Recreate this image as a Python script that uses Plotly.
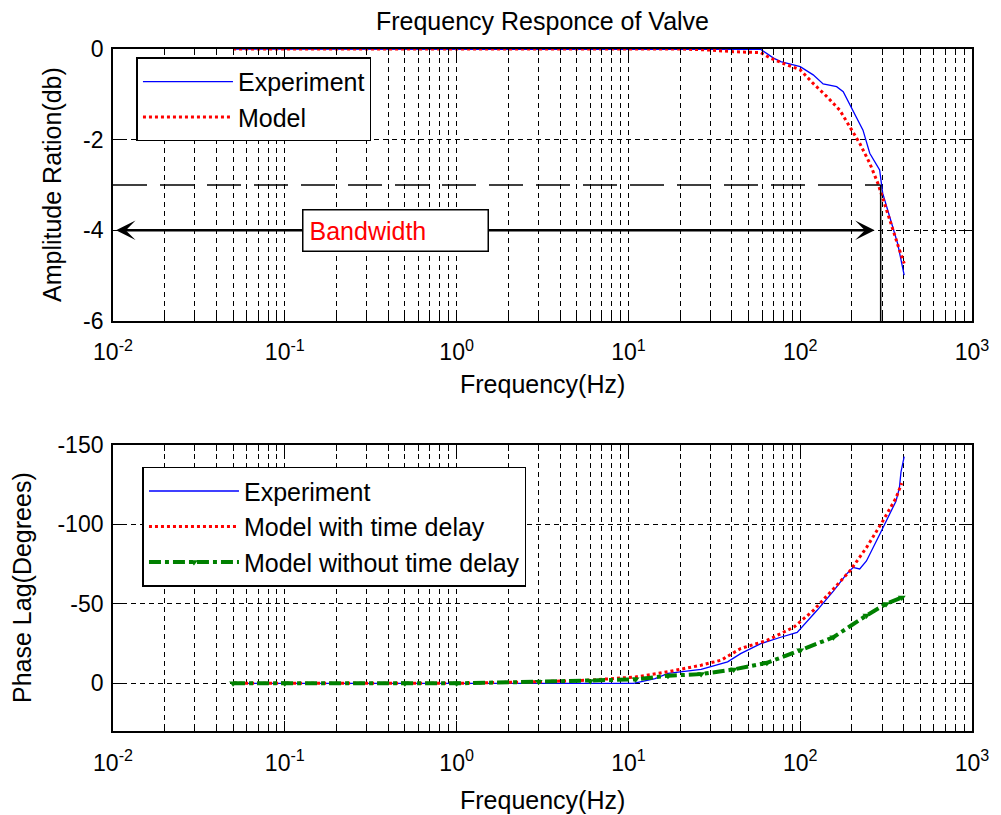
import math
import plotly.graph_objects as go

# ---------------- data: amplitude (top) ----------------
amp_freq_exp = [0.05, 0.1, 0.5, 1, 5, 10, 20, 40, 59, 70, 77, 100, 119, 136, 163, 178,
                203, 232, 254, 290, 302, 331, 369, 403]
amp_db_exp = [0, 0, 0, 0, 0, 0, 0, 0, -0.01, -0.2, -0.28, -0.39, -0.57, -0.77, -0.83, -0.94,
              -1.35, -1.79, -2.3, -2.67, -3.18, -3.7, -4.29, -4.99]

amp_freq_model = [0.05, 0.1, 0.5, 1, 5, 10, 20, 29, 41, 59, 67, 80, 100, 119, 143, 170,
                  194, 222, 254, 283, 309, 346, 378, 403]
amp_db_model = [0, 0, 0, 0, 0, 0, 0, -0.02, -0.06, -0.08, -0.2, -0.32, -0.46, -0.76, -1.05, -1.35,
                -1.71, -2.08, -2.52, -2.96, -3.4, -3.99, -4.43, -4.73]

bandwidth_hz = 294
cutoff_db = -3
arrow_db = -4

# ---------------- data: phase (bottom) ----------------
ph_freq_exp = [0.05, 0.1, 0.5, 1, 5, 10.7, 14.3, 17, 26.5, 37.8, 45, 59, 77, 96, 125, 156,
               186, 203, 222, 243, 290, 316, 361, 378, 386, 403]
ph_deg_exp = [0, 0, 0, 0, 0, 0, -3, -6.2, -8.8, -13.5, -18.7, -25, -29, -32, -45.8, -58,
              -68.7, -72.9, -72, -77, -93.7, -102, -114.6, -123, -133, -142.7]

ph_freq_delay = [0.05, 0.1, 0.5, 1, 3, 6, 11, 17, 26.5, 34.7, 45, 64, 92, 119, 156, 195,
                 243, 302, 361, 390]
ph_deg_delay = [0, 0, 0, 0, -1, -2, -4, -7.3, -11.4, -14.6, -21.9, -27, -35.4, -45.8, -59.4, -70.8,
                -85.4, -102, -116.6, -126]

ph_freq_nodelay = [0.05, 0.1, 0.5, 1, 3, 6, 11, 17, 26.5, 41, 64, 100, 156, 243, 316, 390]
ph_deg_nodelay = [0, 0, 0, 0, -1, -1.5, -2.5, -4.8, -5.8, -8.75, -12.9, -20.8, -29, -42.7, -50, -54]

# ---------------- ticks ----------------
decade_ticks = [0.01, 0.1, 1, 10, 100, 1000]
decade_labels = ["10<sup>-2</sup>", "10<sup>-1</sup>", "10<sup>0</sup>",
                 "10<sup>1</sup>", "10<sup>2</sup>", "10<sup>3</sup>"]
minor_ticks = [m * 10.0 ** e for e in range(-2, 3) for m in range(2, 10)]
amp_ticks = [-6, -4, -2, 0]
phase_ticks = [-150, -100, -50, 0]

FONT = "Arial, Liberation Sans, sans-serif"
FS_TICK = 23
FS = 25
GRID_DASH = "5px,4px"

fig = go.Figure()

# top traces
fig.add_trace(go.Scatter(x=amp_freq_exp, y=amp_db_exp, mode="lines", name="Experiment",
                         line=dict(color="#0000ff", width=1.3), xaxis="x", yaxis="y",
                         legend="legend"))
fig.add_trace(go.Scatter(x=amp_freq_model, y=amp_db_model, mode="lines", name="Model",
                         line=dict(color="#ff0000", width=3, dash="dot"), xaxis="x", yaxis="y",
                         legend="legend"))
# -3 dB reference and bandwidth marker lines
fig.add_trace(go.Scatter(x=[decade_ticks[0], bandwidth_hz], y=[cutoff_db, cutoff_db], mode="lines",
                         line=dict(color="black", width=1.5, dash="34px,13px"),
                         showlegend=False, hoverinfo="skip", xaxis="x", yaxis="y"))
fig.add_trace(go.Scatter(x=[bandwidth_hz, bandwidth_hz], y=[cutoff_db, amp_ticks[0]], mode="lines",
                         line=dict(color="black", width=1.5),
                         showlegend=False, hoverinfo="skip", xaxis="x", yaxis="y"))

# bottom traces
fig.add_trace(go.Scatter(x=ph_freq_exp, y=ph_deg_exp, mode="lines", name="Experiment",
                         line=dict(color="#0000ff", width=1.3), xaxis="x2", yaxis="y2",
                         legend="legend2"))
fig.add_trace(go.Scatter(x=ph_freq_delay, y=ph_deg_delay, mode="lines", name="Model with time delay",
                         line=dict(color="#ff0000", width=3, dash="dot"), xaxis="x2", yaxis="y2",
                         legend="legend2"))
fig.add_trace(go.Scatter(x=ph_freq_nodelay, y=ph_deg_nodelay, mode="lines+markers",
                         name="Model without time delay",
                         line=dict(color="#008000", width=4, dash="dashdot"),
                         marker=dict(symbol="triangle-down", size=7, color="#008000"),
                         xaxis="x2", yaxis="y2", legend="legend2"))

top_dom = [0.6012, 1.0]
bot_dom = [0.0, 0.4194]


def xaxis_cfg(anchor):
    return dict(type="log", range=[math.log10(decade_ticks[0]), math.log10(decade_ticks[-1])],
                anchor=anchor, domain=[0, 1],
                tickmode="array", tickvals=decade_ticks, ticktext=decade_labels,
                ticks="inside", ticklen=10, tickwidth=1.2, tickcolor="black",
                showline=True, linecolor="black", linewidth=1.8, mirror="allticks",
                showgrid=True, gridcolor="black", gridwidth=1.3, griddash=GRID_DASH,
                zeroline=False, ticklabelstandoff=10,
                tickfont=dict(family=FONT, size=FS_TICK, color="black"),
                minor=dict(tickmode="array", tickvals=minor_ticks, ticks="inside", ticklen=6,
                           tickcolor="black", tickwidth=1,
                           showgrid=True, gridcolor="black", gridwidth=1.3, griddash=GRID_DASH))


def yaxis_cfg(anchor, dom, rng, ticks):
    return dict(anchor=anchor, domain=dom, range=rng, tickmode="array", tickvals=ticks,
                ticktext=[str(t) for t in ticks],
                ticks="inside", ticklen=10, tickwidth=1.2, tickcolor="black",
                showline=True, linecolor="black", linewidth=1.8, mirror="allticks",
                showgrid=True, gridcolor="black", gridwidth=1.3, griddash=GRID_DASH,
                zeroline=False, ticklabelstandoff=3,
                tickfont=dict(family=FONT, size=FS_TICK, color="black"))


annotations = [
    # axis titles
    dict(text="Frequency(Hz)", xref="paper", yref="paper", x=0.5, y=top_dom[0],
         xanchor="center", yanchor="middle", yshift=-63, showarrow=False,
         font=dict(family=FONT, size=FS, color="black")),
    dict(text="Frequency(Hz)", xref="paper", yref="paper", x=0.5, y=bot_dom[0],
         xanchor="center", yanchor="middle", yshift=-69, showarrow=False,
         font=dict(family=FONT, size=FS, color="black")),
    dict(text="Amplitude Ration(db)", xref="paper", yref="paper", x=0, y=sum(top_dom) / 2,
         xanchor="center", yanchor="middle", xshift=-61, textangle=-90, showarrow=False,
         font=dict(family=FONT, size=FS, color="black")),
    dict(text="Phase Lag(Degrees)", xref="paper", yref="paper", x=0, y=sum(bot_dom) / 2,
         xanchor="center", yanchor="middle", xshift=-91, textangle=-90, showarrow=False,
         font=dict(family=FONT, size=FS, color="black")),
    # bandwidth arrows
    dict(x=math.log10(decade_ticks[0]), y=arrow_db, xref="x", yref="y",
         ax=-0.35, ay=arrow_db, axref="x", ayref="y", text="", showarrow=True,
         arrowhead=3, arrowsize=1.25, arrowwidth=2.6, arrowcolor="black", standoff=3),
    dict(x=math.log10(bandwidth_hz), y=arrow_db, xref="x", yref="y",
         ax=-0.35, ay=arrow_db, axref="x", ayref="y", text="", showarrow=True,
         arrowhead=3, arrowsize=1.25, arrowwidth=2.6, arrowcolor="black", standoff=6),
    # bandwidth label box
    dict(text="Bandwidth", x=-0.3535, y=arrow_db, xref="x", yref="y", showarrow=False,
         xanchor="center", yanchor="middle", width=172, height=28, align="left",
         borderpad=6, bgcolor="white", bordercolor="black", borderwidth=1.5,
         font=dict(family=FONT, size=FS, color="#ff0000")),
]

legend_common = dict(bgcolor="white", bordercolor="black", borderwidth=1.5,
                     font=dict(family=FONT, size=FS, color="black"),
                     xanchor="left", yanchor="top", itemwidth=90, tracegroupgap=0)

fig.update_layout(
    width=1001, height=815,
    margin=dict(l=113, r=21, t=49, b=84),
    paper_bgcolor="white", plot_bgcolor="white",
    title=dict(text="Frequency Responce of Valve", x=0.5, xref="paper", xanchor="center",
               y=1 - 21 / 815, yref="container", yanchor="middle",
               font=dict(family=FONT, size=FS, color="black")),
    xaxis=xaxis_cfg("y"),
    yaxis=yaxis_cfg("x", top_dom, [amp_ticks[0], amp_ticks[-1]], amp_ticks),
    xaxis2=xaxis_cfg("y2"),
    yaxis2=yaxis_cfg("x2", bot_dom, [30, phase_ticks[0]], phase_ticks),
    legend=dict(x=0.0273, y=0.9878, **legend_common),
    legend2=dict(x=0.0343, y=0.3875, **legend_common),
    annotations=annotations,
    showlegend=True,
)

fig.write_html("out.html")
